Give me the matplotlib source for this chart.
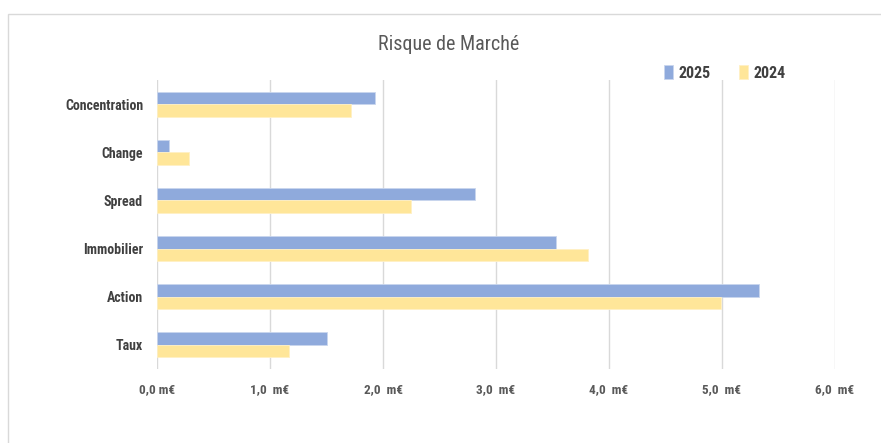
import matplotlib
matplotlib.use("Agg")
import matplotlib.pyplot as plt
from matplotlib.patches import Rectangle
import numpy as np

categories = ["Concentration", "Change", "Spread", "Immobilier", "Action", "Taux"]
values_2025 = [1.93, 0.11, 2.81, 3.53, 5.33, 1.50]
values_2024 = [1.72, 0.28, 2.25, 3.81, 4.99, 1.17]
xticks = [0, 1, 2, 3, 4, 5, 6]
xtick_labels = ["0,0 m€", "1,0  m€", "2,0  m€", "3,0  m€", "4,0  m€", "5,0  m€", "6,0  m€"]
title = "Risque de Marché"

fam = ["Liberation Sans Narrow", "Roboto Condensed", "DejaVu Sans"]
plt.rcParams['font.family'] = fam

fig = plt.figure(figsize=(8.81, 4.43), dpi=100)
fig.patches.append(Rectangle((8/881, -0.1), 1.0, 1.1 - 14/443, transform=fig.transFigure,
                             fill=False, edgecolor="#d9d9d9", linewidth=1.0))
ax = fig.add_axes([157/881, 1 - 369/443, (835 - 157)/881, (369 - 80)/443])

y = np.arange(len(categories))
h = 0.26
ax.barh(y - h/2, values_2025, height=h, color="#8FAADC", edgecolor="#c9d6ee", linewidth=0.6, label="2025", zorder=3)
ax.barh(y + h/2, values_2024, height=h, color="#FFE699", edgecolor="#fff0c4", linewidth=0.6, label="2024", zorder=3)

ax.set_ylim(len(categories) - 0.5, -0.5)
ax.set_xlim(0, 6)
ax.set_yticks(y)
ax.set_yticklabels(categories, fontsize=10, fontweight="bold", color="#404040")
ax.set_xticks(xticks)
ax.set_xticklabels(xtick_labels, fontsize=9.5, fontweight="bold", color="#595959")
ax.tick_params(axis="both", length=0)
ax.tick_params(axis="x", pad=10)
ax.tick_params(axis="y", pad=10)
ax.grid(axis="x", color="#d9d9d9", linewidth=1.0, zorder=0)
for s in ax.spines.values():
    s.set_visible(False)

fig.text(449/881, 1 - 44/443, title, ha="center", va="center", fontsize=14.5, color="#595959")

leg = ax.legend(loc="center left", bbox_to_anchor=(664/881, 1 - 73/443), bbox_transform=fig.transFigure,
                ncol=2, frameon=False, handlelength=0.55, handleheight=0.9, handletextpad=0.35,
                columnspacing=1.8, borderpad=0, borderaxespad=0,
                prop={"size": 11.5, "weight": "bold", "family": fam})
for t in leg.get_texts():
    t.set_color("#404040")

fig.savefig("out.png", dpi=100)
